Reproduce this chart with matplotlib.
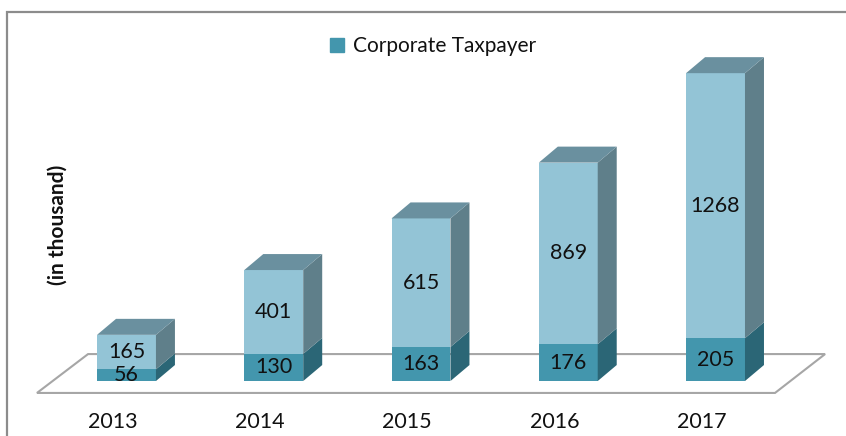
import matplotlib.pyplot as plt
from matplotlib.patches import Polygon, Patch, Rectangle

# Data (in thousand)
years = ["2013", "2014", "2015", "2016", "2017"]
corporate = [56, 130, 163, 176, 205]
individual = [165, 401, 615, 869, 1268]

# Colours of the pseudo-3D boxes
dark_front, dark_side = "#4396ad", "#2b6676"
light_front, light_side, light_top = "#93c4d6", "#5f7f8a", "#6a909f"

plt.rcParams['font.family'] = ['Lato', 'DejaVu Sans']

fig = plt.figure(figsize=(8.46, 4.36), dpi=100)
ax = fig.add_axes([0, 0, 1, 1])
ax.set_xlim(-0.859, 4.886)
ax.set_ylim(-263, 1823)
ax.axis('off')

w = 0.2              # half width of bar front
dx, dy = 0.129, 76.5  # depth offset (x in categories, y in value units)


def box(x, y0, y1, front, side, top=None):
    ax.add_patch(Polygon([(x - w, y0), (x + w, y0), (x + w, y1), (x - w, y1)],
                         closed=True, fc=front, ec='none', zorder=3))
    ax.add_patch(Polygon([(x + w, y0), (x + w + dx, y0 + dy), (x + w + dx, y1 + dy), (x + w, y1)],
                         closed=True, fc=side, ec='none', zorder=3))
    if top:
        ax.add_patch(Polygon([(x - w, y1), (x + w, y1), (x + w + dx, y1 + dy), (x - w + dx, y1 + dy)],
                             closed=True, fc=top, ec='none', zorder=3))


# Floor
n = len(years)
floor = [(-0.608, -57), (n - 1 + 0.404, -57), (n - 1 + 0.744, 129), (-0.261, 129)]
ax.add_patch(Polygon(floor, closed=True, fc='white', ec='#a6a6a6', lw=1.5, zorder=1))

for i, (c, p) in enumerate(zip(corporate, individual)):
    box(i, 0, c, dark_front, dark_side)
    box(i, c, c + p, light_front, light_side, light_top)
    ax.text(i, c / 2, str(c), ha='center', va='center', fontsize=15.5, color='#111111', zorder=5)
    ax.text(i, c + p / 2, str(p), ha='center', va='center', fontsize=15.5, color='#111111', zorder=5)
    ax.text(i - 0.095, -195, years[i], ha='center', va='center', fontsize=15.5, color='#111111')

# Legend
ax.legend(handles=[Patch(color=dark_front, label='Corporate Taxpayer')],
          loc='center', bbox_to_anchor=(0.512, 0.894), frameon=False,
          fontsize=15, handlelength=0.65, handleheight=0.65, handletextpad=0.45,
          labelcolor='#111111')

fig.text(58 / 846, 1 - 225 / 436, "(in thousand)", rotation=90, ha='center', va='center',
         fontsize=15, fontweight='bold', color='#111111')

# Chart frame
fig.add_artist(Rectangle((7 / 846, -0.1), 2, 1 - 12 / 436 + 0.1, transform=fig.transFigure,
                         fill=False, ec='#8c8c8c', lw=1.6))

plt.savefig('out.png', dpi=100)
